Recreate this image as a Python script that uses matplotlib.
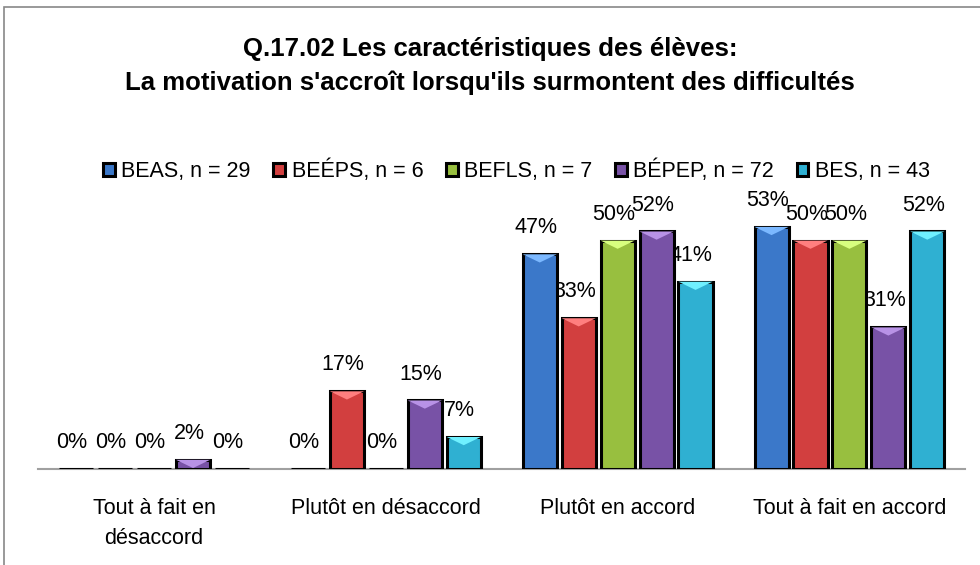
import matplotlib
matplotlib.use('Agg')
import matplotlib.pyplot as plt
from matplotlib.patches import Rectangle, Polygon
import matplotlib.colors as mcolors
import numpy as np

plt.rcParams['font.family'] = ['Liberation Sans', 'DejaVu Sans']

categories = ['Tout à fait en\ndésaccord', 'Plutôt en désaccord', 'Plutôt en accord', 'Tout à fait en accord']
series = ['BEAS, n = 29', 'BEÉPS, n = 6', 'BEFLS, n = 7', 'BÉPEP, n = 72', 'BES, n = 43']
beas = [0, 0, 47, 53]
beeps = [0, 17, 33, 50]
befls = [0, 0, 50, 50]
bepep = [2, 15, 52, 31]
bes = [0, 7, 41, 52]
valeurs = [beas, beeps, befls, bepep, bes]
couleurs = ['#3b78c9', '#d23f3f', '#98bf3f', '#7852a6', '#2fb0d2']

fig = plt.figure(figsize=(9.8, 5.65), dpi=100)
ax = fig.add_axes([0.039, 0.170, 0.946, 0.485])

x = np.arange(len(categories))
pas = 0.168
largeur = 0.147
for i, (nom, vals, c) in enumerate(zip(series, valeurs, couleurs)):
    pos = x + (i - 2) * pas
    barres = ax.bar(pos, vals, width=largeur, color=c, edgecolor='black', linewidth=2.2,
                    label=nom, zorder=3)
    clair = mcolors.to_rgb(c)
    clair = tuple(min(1, v + 0.25) for v in clair)
    for b, v in zip(barres, vals):
        if v > 0:
            # petit biseau clair en haut de la barre
            x0, w, h = b.get_x(), b.get_width(), min(v, 1.8)
            ax.add_patch(Polygon([(x0, v), (x0 + w, v), (x0 + w * 0.5, v - h)],
                                 closed=True, facecolor=clair, edgecolor='none', zorder=4))
    for p, v in zip(pos, vals):
        ax.annotate(f'{v}%', (p, v), xytext=(-3, 19), textcoords='offset points',
                    ha='center', va='center', fontsize=15.5, zorder=2)

ax.set_xlim(-0.5, 3.5)
ax.set_ylim(0, 60)
ax.set_yticks([])
ax.set_xticks(x)
ax.set_xticklabels(categories, fontsize=15.5, linespacing=1.55)
ax.tick_params(axis='x', length=0, pad=21)
for s in ['top', 'right', 'left']:
    ax.spines[s].set_visible(False)
ax.spines['bottom'].set_color('#a0a0a0')
ax.spines['bottom'].set_linewidth(1.5)

fig.text(0.5, 0.913, "Q.17.02 Les caractéristiques des élèves:", ha='center', va='center',
         fontsize=18.5, fontweight='bold')
fig.text(0.5, 0.853, "La motivation s'accroît lorsqu'ils surmontent des difficultés", ha='center',
         va='center', fontsize=18.5, fontweight='bold')

fig.legend(loc='center', bbox_to_anchor=(0.527, 0.697), ncol=5, frameon=False, fontsize=15.5,
           handlelength=0.55, handleheight=0.55, handletextpad=0.3, columnspacing=1.05)

fig.patches.append(Rectangle((0.004, -0.1), 1.2, 1.1 - 7 / 565, transform=fig.transFigure,
                             fill=False, edgecolor='#888888', linewidth=1.2))

fig.savefig('out.png', dpi=100)
